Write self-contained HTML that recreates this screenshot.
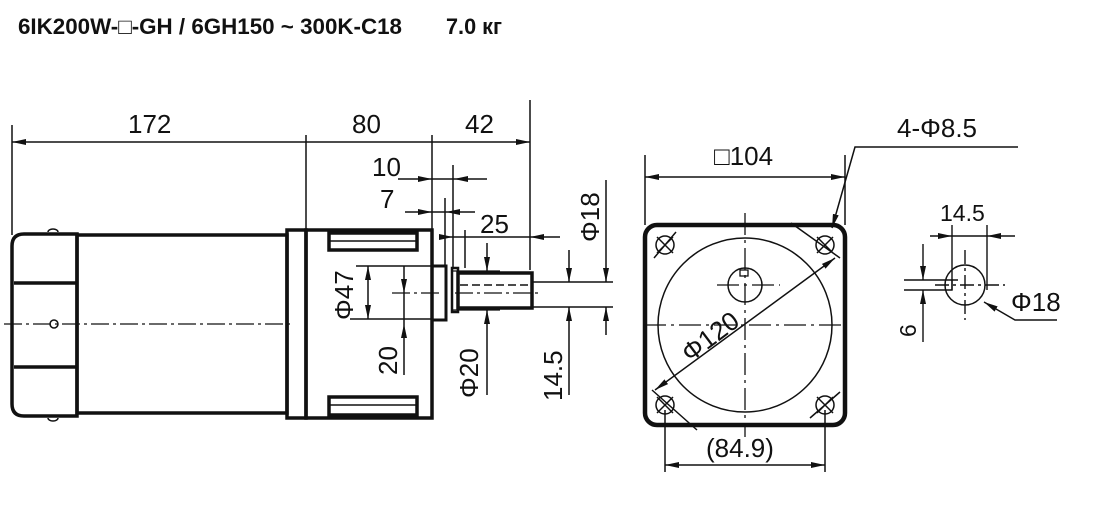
<!DOCTYPE html>
<html><head><meta charset="utf-8"><style>
body{margin:0;background:#fff;width:1100px;height:506px;overflow:hidden}
svg{display:block}
text{font-family:"Liberation Sans",sans-serif;fill:#111}
</style></head><body>
<svg width="1100" height="506" viewBox="0 0 1100 506" xmlns="http://www.w3.org/2000/svg">
<defs>
<marker id="a" viewBox="0 0 14 6" refX="14" refY="3" markerWidth="14" markerHeight="6" markerUnits="userSpaceOnUse" orient="auto-start-reverse"><path d="M0,0L14,3L0,6z" fill="#111"/></marker>
</defs>
<text x="18" y="34" font-size="22" font-weight="bold" textLength="384" lengthAdjust="spacingAndGlyphs">6IK200W-□-GH / 6GH150 ~ 300K-C18</text>
<text x="446" y="34" font-size="22" font-weight="bold" textLength="56" lengthAdjust="spacingAndGlyphs">7.0 кг</text>

<g stroke="#111" fill="none">
<!-- motor -->
<path d="M24,234 H77 V416 H24 Q12,416 12,404 V246 Q12,234 24,234Z" stroke-width="3.5"/>
<path d="M14,283 H77 M14,367 H77" stroke-width="3.5"/>
<path d="M48,232 a5,3 0 0 1 10,0 M48,418 a5,3 0 0 0 10,0" stroke-width="1.5"/>
<circle cx="54" cy="324" r="4" stroke-width="1.5"/>
<rect x="77" y="235" width="210" height="178" stroke-width="3.5"/>
<rect x="287" y="230" width="19" height="188" stroke-width="3.5"/>
<rect x="306" y="230" width="126" height="188" stroke-width="3.5"/>
<rect x="329" y="233" width="88" height="17" stroke-width="3.5"/>
<path d="M329,241 H417 M329,405 H417" stroke-width="1.5"/>
<rect x="329" y="397" width="88" height="18" stroke-width="3.5"/>
<rect x="432" y="266" width="14" height="54" stroke-width="3"/>
<rect x="452" y="268" width="6" height="44" stroke-width="2.5"/>
<rect x="458" y="273" width="74" height="35" stroke-width="3.5"/>
<path d="M460,285 H532" stroke-width="1.5" stroke-dasharray="8,4"/>
<path d="M452,271 H500 M452,310 H500" stroke-width="1.2"/>
<path d="M4,324 H290" stroke-width="1.2" stroke-dasharray="18,4,3,4"/>
<path d="M392,293 H440 M455,293 H540" stroke-width="1.2" stroke-dasharray="18,4,3,4"/>

<!-- dims left -->
<g stroke-width="1.5">
<path d="M12,125 V235 M306,135 V230 M432,135 V230 M530,100 V270"/>
<path d="M12,142 H306 M306,142 H432 M432,142 H530" marker-start="url(#a)" marker-end="url(#a)"/>
<path d="M398,179 H432" marker-end="url(#a)"/><path d="M487,179 H454" marker-end="url(#a)"/><path d="M432,179 H454"/>
<path d="M453,165 V268"/>
<path d="M405,212 H432" marker-end="url(#a)"/><path d="M475,212 H446" marker-end="url(#a)"/><path d="M432,212 H446"/>
<path d="M445,198 V266"/>
<path d="M440,237 H453" marker-end="url(#a)"/><path d="M560,237 H530" marker-end="url(#a)"/><path d="M453,237 H530"/>
<path d="M465,230 V268"/>
<path d="M356,266 H432 M350,319 H432"/>
<path d="M368,266 V319" marker-start="url(#a)" marker-end="url(#a)"/>
<path d="M404,266 V293" marker-end="url(#a)"/><path d="M404,375 V324" marker-end="url(#a)"/><path d="M404,293 V324"/>
<path d="M487,243 V271" marker-end="url(#a)"/><path d="M487,395 V310" marker-end="url(#a)"/>
<path d="M532,282 H613 M532,307 H613"/>
<path d="M569,250 V282" marker-end="url(#a)"/><path d="M569,395 V307" marker-end="url(#a)"/>
<path d="M606,180 V282" marker-end="url(#a)"/><path d="M606,335 V307" marker-end="url(#a)"/>
</g>
</g>
<g font-size="26">
<text x="128" y="133">172</text>
<text x="352" y="133">80</text>
<text x="465" y="133">42</text>
<text x="372" y="176">10</text>
<text x="380" y="208">7</text>
<text x="480" y="233">25</text>
<text transform="translate(353,320) rotate(-90)">Φ47</text>
<text transform="translate(397,375) rotate(-90)">20</text>
<text transform="translate(478,398) rotate(-90)">Φ20</text>
<text transform="translate(562,401) rotate(-90)">14.5</text>
<text transform="translate(599,242) rotate(-90)">Φ18</text>
</g>

<!-- front view -->
<g stroke="#111" fill="none">
<rect x="645" y="225" width="200" height="200" rx="12" stroke-width="4.5"/>
<circle cx="745" cy="325" r="87" stroke-width="1.5"/>
<circle cx="745" cy="285" r="17" stroke-width="1.5"/>
<rect x="740" y="270" width="8" height="6" stroke-width="1.3"/>
<path d="M644,325 H846 M745,213 V437 M717,285 H780" stroke-width="1.3" stroke-dasharray="22,5,3,5"/>
<g stroke-width="1.5">
<circle cx="665" cy="245" r="9"/><path d="M657,237 L673,253 M673,237 L657,253 M654,258 L676,232"/>
<circle cx="825" cy="245" r="9"/><path d="M817,237 L833,253 M833,237 L817,253 M791,223 L840,258"/>
<circle cx="665" cy="405" r="9"/><path d="M657,397 L673,413 M673,397 L657,413 M652,390 L697,430"/>
<circle cx="825" cy="405" r="9"/><path d="M817,397 L833,413 M833,397 L817,413 M810,418 L840,392"/>
</g>
<g stroke-width="1.5">
<path d="M645,155 V225 M845,155 V225"/>
<path d="M645,177 H845" marker-start="url(#a)" marker-end="url(#a)"/>
<path d="M1018,147 H855 L832,228" marker-end="url(#a)"/>
<path d="M655,390 L835,258" marker-start="url(#a)" marker-end="url(#a)"/>
<path d="M665,410 V472 M825,410 V472"/>
<path d="M665,465 H825" marker-start="url(#a)" marker-end="url(#a)"/>
</g>
<circle cx="965" cy="285" r="20" stroke-width="1.5"/>
<g stroke-width="1.4">
<path d="M965,250 V320 M935,285 H1005" stroke-dasharray="14,4,3,4"/>
<path d="M904,280 H952 V290 H904 M952,280 H958"/>
<path d="M952,225 V290 M987,225 V290"/>
<path d="M930,236 H952" marker-end="url(#a)"/><path d="M1015,236 H987" marker-end="url(#a)"/><path d="M952,236 H987"/>
<path d="M923,244 V280" marker-end="url(#a)"/><path d="M923,342 V290" marker-end="url(#a)"/>
<path d="M1057,320 H1015 L984,302" marker-end="url(#a)"/>
</g>
</g>
<g font-size="26">
<text x="714" y="165">□104</text>
<text x="897" y="137">4-Φ8.5</text>
<text x="706" y="457">(84.9)</text>
<text transform="translate(690,363) rotate(-37)">Φ120</text>
<text x="940" y="221" font-size="23">14.5</text>
<text transform="translate(916,337) rotate(-90)" font-size="23">6</text>
<text x="1011" y="311">Φ18</text>
</g>
</svg>
</body></html>
